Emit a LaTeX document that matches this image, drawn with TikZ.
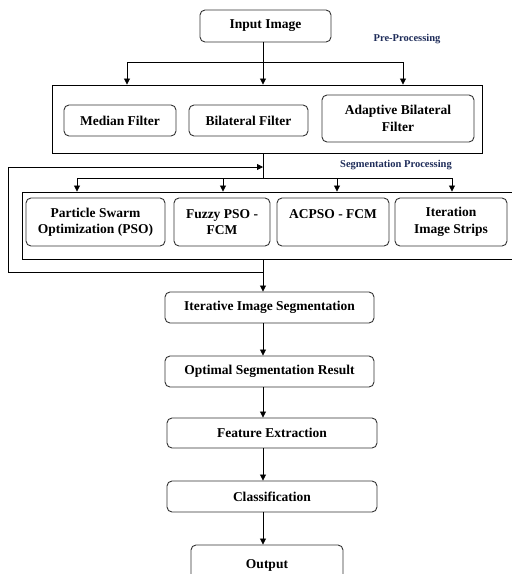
\documentclass[tikz,border=0pt]{standalone}
\usepackage{fontspec}
\setmainfont{Liberation Serif}
\usepackage{tikz}
\usetikzlibrary{positioning,arrows.meta}

\definecolor{labelblue}{RGB}{31,45,90}

\tikzset{
  >={Triangle[length=6pt,width=6pt]},
  box/.style={rectangle,rounded corners=5pt,draw=black!80,line width=0.9pt,align=center,font=\fontsize{13.5}{16.5}\selectfont\bfseries,inner sep=2pt},
  frame/.style={rectangle,draw=black,line width=0.9pt,inner sep=0pt},
  stage/.style={font=\fontsize{10.5}{12}\selectfont\bfseries,text=labelblue},
  line/.style={line width=0.8pt}
}

\begin{document}
\begin{tikzpicture}[x=1pt,y=-1pt]
  \clip (0,0) rectangle (512,574);
  %Nodes
  \node at (265.5,26) [box,minimum width=131pt,minimum height=32pt] (input) {Input Image};
  \node at (407,39) [stage] (prelabel) {Pre-Processing};
  \node at (267,119) [frame,minimum width=430pt,minimum height=68pt] (pre) {};
  \node at (120,120.5) [box,minimum width=112pt,minimum height=31pt] (median) {Median Filter};
  \node at (248.5,120.5) [box,minimum width=119pt,minimum height=31pt] (bilateral) {Bilateral Filter};
  \node at (398,118.5) [box,minimum width=152pt,minimum height=47pt] (adaptive) {Adaptive Bilateral\\Filter};

  \node at (396,165) [stage] (seglabel) {Segmentation Processing};
  \node at (268,225.5) [frame,minimum width=492pt,minimum height=67pt] (seg) {};
  \node at (95.5,222) [box,minimum width=139pt,minimum height=48pt] (pso) {Particle Swarm\\Optimization (PSO)};
  \node at (222,222) [box,minimum width=96pt,minimum height=48pt] (fuzzy) {Fuzzy PSO -\\FCM};
  \node at (333,222) [box,minimum width=112pt,minimum height=48pt] (acpso) {ACPSO - FCM\\\mbox{}};
  \node at (451,222) [box,minimum width=112pt,minimum height=48pt] (iter) {Iteration\\Image Strips};

  \node at (269.5,307.5) [box,minimum width=209pt,minimum height=31pt] (iterative) {Iterative Image Segmentation};
  \node at (269.5,371.5) [box,minimum width=209pt,minimum height=31pt] (optimal) {Optimal Segmentation Result};
  \node at (272,433) [box,minimum width=210pt,minimum height=30pt] (feature) {Feature Extraction};
  \node at (272,496.5) [box,minimum width=210pt,minimum height=31pt] (class) {Classification};
  \node at (267,565) [box,minimum width=152pt,minimum height=40pt] (output) {Output};

  %Coordinates
  \coordinate (spine) at (263,0);
  \coordinate (presplit) at (263,62);
  \coordinate (preleft) at (127,62);
  \coordinate (preright) at (403,62);
  \coordinate (segjoin) at (263,167);
  \coordinate (segsplit) at (263,178);
  \coordinate (segA) at (77,178);
  \coordinate (segB) at (223,178);
  \coordinate (segC) at (337,178);
  \coordinate (segD) at (452,178);
  \coordinate (loopstart) at (263,272);
  \coordinate (loopbottom) at (8,272);
  \coordinate (looptop) at (8,167);

  %Lines
  \draw[line] (input.south -| spine) -- (presplit);
  \draw[line] (preleft) -- (preright);
  \draw[line,->] (preleft) -- (preleft |- pre.north);
  \draw[line,->] (presplit) -- (presplit |- pre.north);
  \draw[line,->] (preright) -- (preright |- pre.north);

  \draw[line] (pre.south -| spine) -- (segsplit);
  \draw[line] (segA) -- (segD);
  \draw[line,->] (segA) -- (segA |- seg.north);
  \draw[line,->] (segB) -- (segB |- seg.north);
  \draw[line,->] (segC) -- (segC |- seg.north);
  \draw[line,->] (segD) -- (segD |- seg.north);
  \draw[line,->] (loopstart) -- (loopbottom) -- (looptop) -- (segjoin);

  \draw[line,->] (seg.south -| spine) -- (iterative.north -| spine);
  \draw[line,->] (iterative.south -| spine) -- (optimal.north -| spine);
  \draw[line,->] (optimal.south -| spine) -- (feature.north -| spine);
  \draw[line,->] (feature.south -| spine) -- (class.north -| spine);
  \draw[line,->] (class.south -| spine) -- (output.north -| spine);
\end{tikzpicture}
\end{document}
